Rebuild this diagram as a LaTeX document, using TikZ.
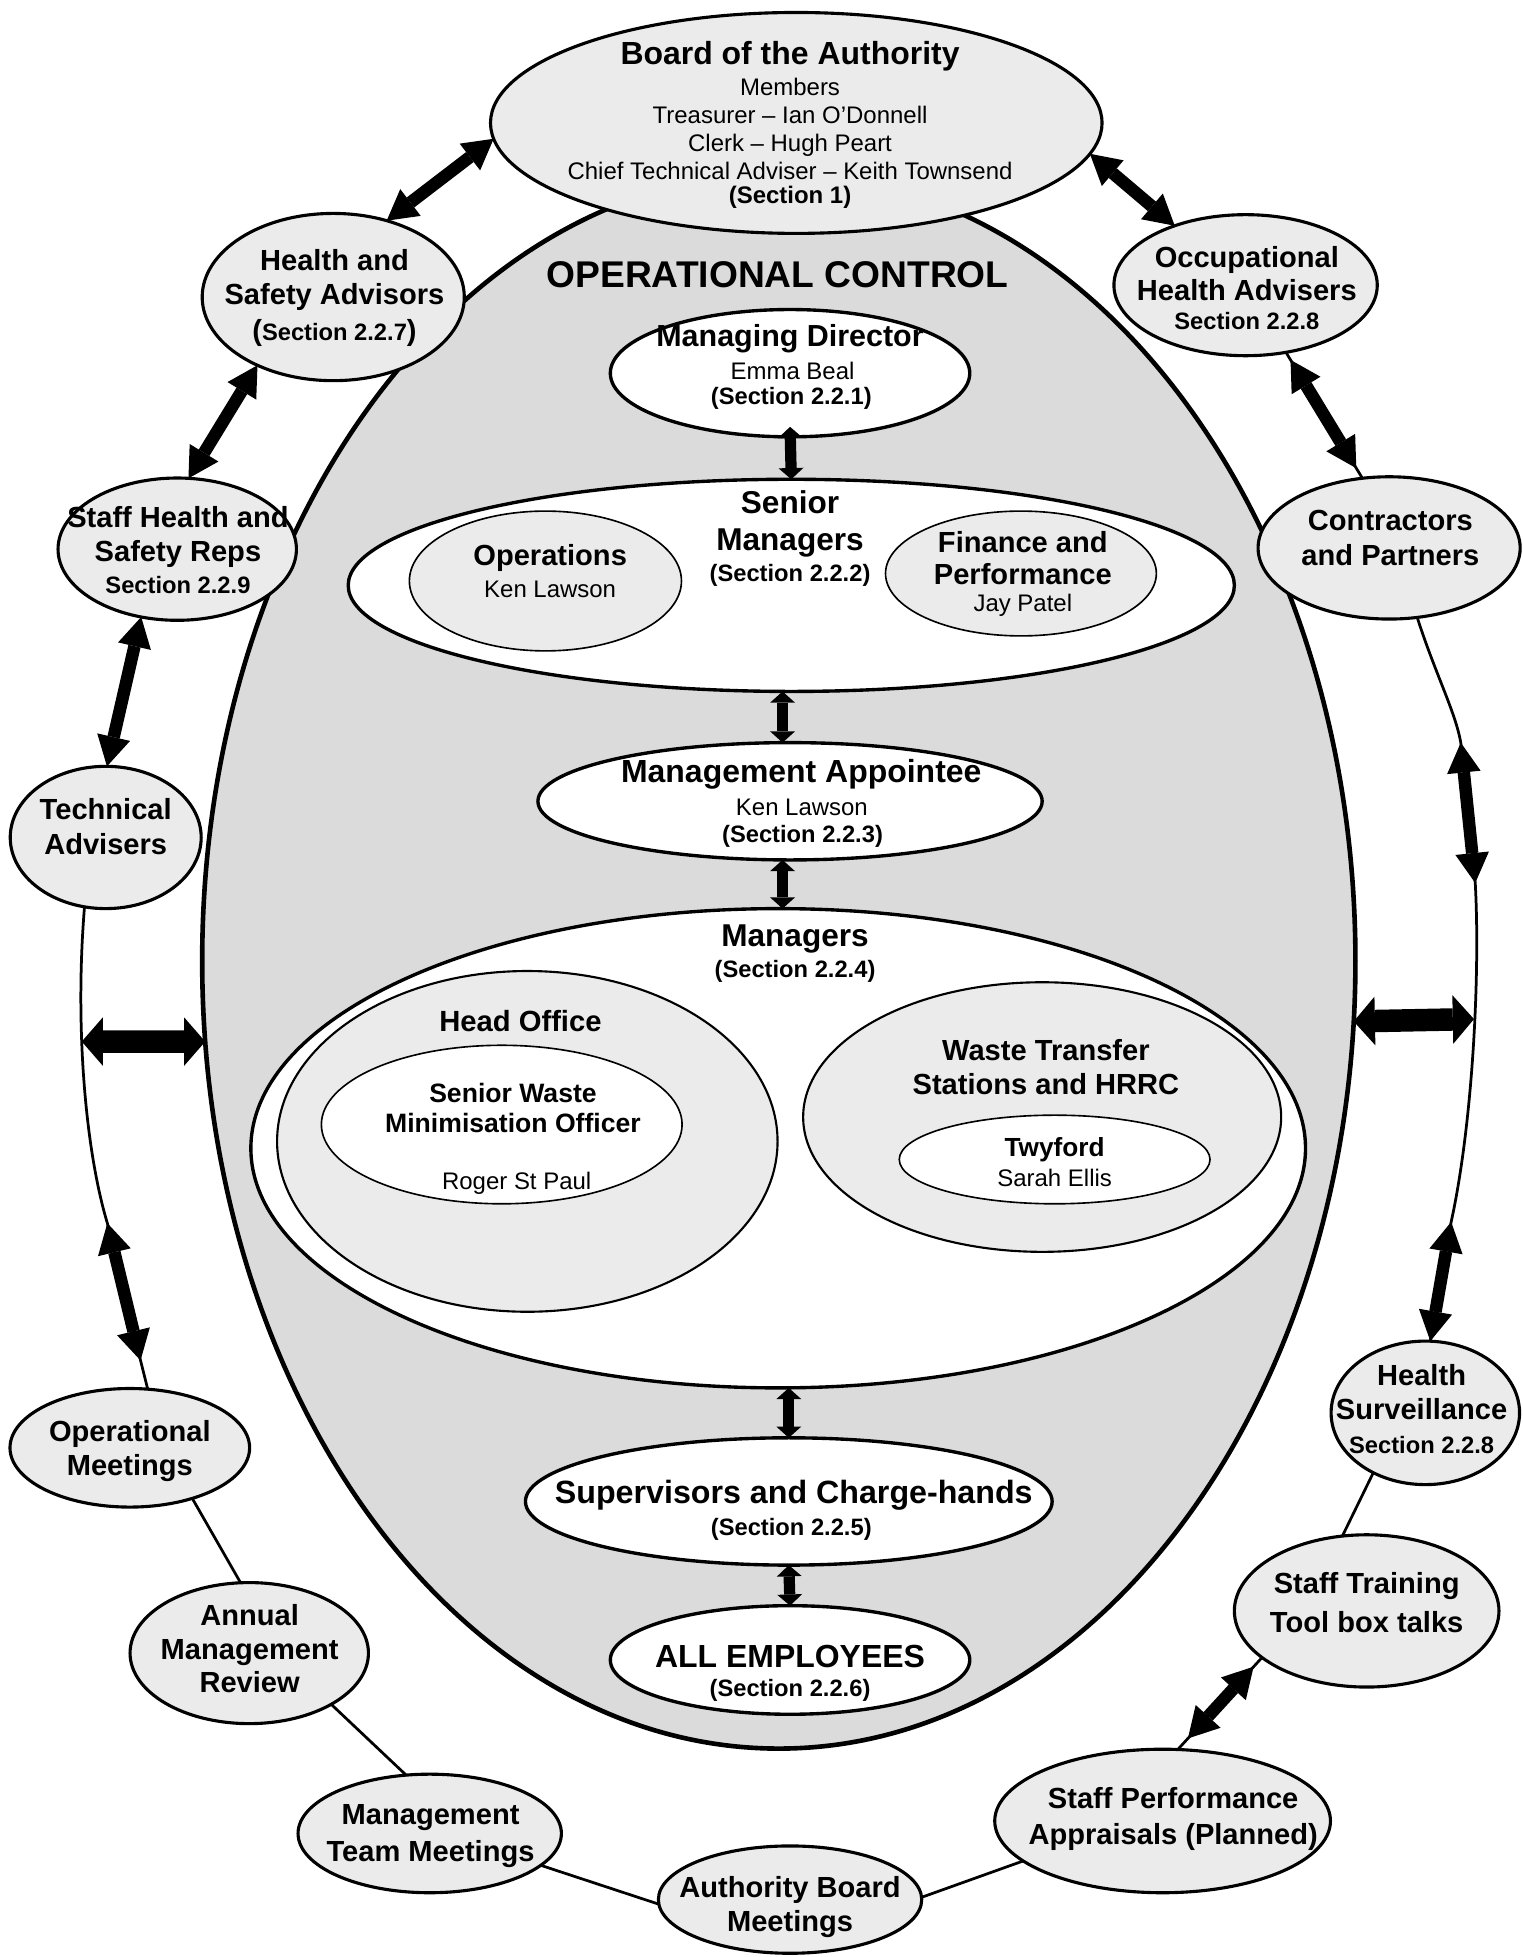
\documentclass[tikz,border=0pt]{standalone}
\usepackage{fontspec}
\setmainfont{Liberation Sans}
\usetikzlibrary{shapes.geometric,arrows.meta,calc}
\definecolor{opcgray}{gray}{0.86}
\definecolor{lg}{gray}{0.92}
\newcommand\fs[2]{\fontsize{#1pt}{#2pt}\selectfont}
\begin{document}
\begin{tikzpicture}[x=1pt,y=-1pt,
  ell/.style={ellipse, inner sep=0pt, outer sep=0pt},
  outernode/.style={ell, draw, fill=lg, line width=2.5pt},
  whitenode/.style={ell, draw, fill=white, line width=2.7pt},
  thinnode/.style={ell, draw, fill=lg, line width=1.3pt},
  ring/.style={line width=2.2pt},
  bigarr/.style={line width=10pt, {Triangle[length=24pt,width=27pt,line width=0pt]}-{Triangle[length=24pt,width=27pt,line width=0pt]}},
  harr/.style={line width=18pt, {Triangle[length=17pt,width=39pt,line width=0pt]}-{Triangle[length=17pt,width=39pt,line width=0pt]}},
  sarr/.style={line width=9pt, {Triangle[length=9pt,width=20pt,line width=0pt]}-{Triangle[length=9pt,width=20pt,line width=0pt]}},
  ot/.style={align=center, inner sep=0pt, font=\fs{23.3}{27}\bfseries},
  sec/.style={align=center, inner sep=0pt, font=\fs{19}{22}\bfseries},
  reg/.style={align=center, inner sep=0pt, font=\fs{19.2}{22}},
  ttl/.style={align=center, inner sep=0pt, font=\fs{#1}{30}\bfseries}
]
\useasboundingbox (0,0) rectangle (1220,1568);
\fill[white] (0,0) rectangle (1220,1568);

% central operational control ellipse
\node[ell, draw, fill=opcgray, line width=3.7pt, minimum width=924pt, minimum height=1262pt] (opc) at (624,770) {};
% board
\node[ell, draw, fill=lg, line width=2.5pt, minimum width=490pt, minimum height=177pt] (board) at (638,98.5) {};

% inner hierarchy
\node[whitenode, minimum width=288pt, minimum height=102pt] (md) at (633,299) {};
\node[whitenode, minimum width=710pt, minimum height=170pt] (sm) at (634,469) {};
\node[thinnode, minimum width=218pt, minimum height=112pt] (ops) at (437,465.5) {};
\node[thinnode, minimum width=217pt, minimum height=100pt] (fin) at (818,459.5) {};
\node[whitenode, minimum width=404pt, minimum height=94pt] (ma) at (633,642) {};
\node[whitenode, minimum width=845pt, minimum height=384pt] (mgr) at (623.5,920) {};
\node[ell, draw, fill=lg, line width=1.7pt, minimum width=401pt, minimum height=273pt] (ho) at (422.5,914.5) {};
\node[ell, draw, fill=white, line width=1.3pt, minimum width=289pt, minimum height=127pt] (sw) at (402,901) {};
\node[ell, draw, fill=lg, line width=1.7pt, minimum width=383pt, minimum height=216pt] (wt) at (835,895) {};
\node[ell, draw, fill=white, line width=1.3pt, minimum width=249pt, minimum height=71pt] (tw) at (845,929) {};
\node[whitenode, minimum width=422pt, minimum height=102pt] (sup) at (632,1203) {};
\node[whitenode, minimum width=288pt, minimum height=87pt] (all) at (633,1330) {};

% outer ring nodes
\node[outernode, minimum width=210pt, minimum height=134pt] (hsa) at (267,238) {};
\node[outernode, minimum width=191pt, minimum height=114pt] (reps) at (142,440) {};
\node[outernode, minimum width=153pt, minimum height=114pt] (ta) at (84.7,671) {};
\node[outernode, minimum width=211pt, minimum height=113pt] (occ) at (998,228.5) {};
\node[outernode, minimum width=210pt, minimum height=114pt] (contr) at (1113,439) {};
\node[outernode, minimum width=151pt, minimum height=115pt] (hs) at (1142,1132) {};
\node[outernode, minimum width=212pt, minimum height=122pt] (st) at (1095,1290.7) {};
\node[outernode, minimum width=269pt, minimum height=115pt] (perf) at (931.5,1459) {};
\node[outernode, minimum width=211pt, minimum height=86pt] (auth) at (633,1522) {};
\node[outernode, minimum width=211pt, minimum height=95pt] (mtm) at (344.3,1469) {};
\node[outernode, minimum width=191pt, minimum height=113pt] (ann) at (199.7,1324.5) {};
\node[outernode, minimum width=192pt, minimum height=95pt] (opm) at (104,1160) {};

% ring coordinates
\coordinate (lA) at (86,980);
\coordinate (lB) at (112.6,1090);
\coordinate (hL) at (65.5,834.5);
\coordinate (rA) at (1170.4,595);
\coordinate (rB) at (1182,707.5);
\coordinate (rC) at (1162.7,979);
\coordinate (hR) at (1181,816.5);

% thin ring connectors
\draw[ring] (ta.253) .. controls (60,820) and (68,920) .. (lA) -- (lB) -- (opm.73);
\draw[ring] (opm.321) -- (ann.97);
\draw[ring] (ann.328) -- (mtm.112);
\draw[ring] (mtm.344) -- (auth.182);
\draw[ring] (auth.1) -- (perf.196);
\draw[ring] (perf.78) -- (st.204);
\draw[ring] (st.108) -- (hs.229);
\draw[ring] (contr.292) .. controls (1150,540) and (1166,570) .. (rA) -- (rB) .. controls (1186,780) and (1180,900) .. (rC) -- (hs.86);
\draw[ring] (occ.301) -- (contr.111);

% thick double arrows on the ring
\draw[bigarr] (hsa.55) -- (board.183);
\draw[bigarr] (board.354) -- (occ.140);
\draw[bigarr] (hsa.222) -- (reps.81);
\draw[bigarr] (reps.242) -- (ta.89);
\draw[bigarr] ($(occ.301)!0.06!(contr.111)$) -- ($(occ.301)!0.92!(contr.111)$);
\draw[bigarr] (lA) -- (lB);
\draw[bigarr] (rA) -- (rB);
\draw[bigarr] (rC) -- (hs.86);
\draw[bigarr] ($(st.204)!0.1!(perf.78)$) -- ($(st.204)!0.88!(perf.78)$);
\draw[harr] (hL) -- (opc.188);
\draw[harr] (opc.354) -- (hR);

% inner arrows
\draw[sarr] ([yshift=8pt]md.south) -- (sm.north);
\draw[sarr] ([xshift=-7pt]sm.south) -- ([xshift=-6pt]ma.north);
\draw[sarr] ([xshift=-6pt]ma.south) -- ([xshift=3.5pt]mgr.north);
\draw[sarr] ([xshift=8.5pt]mgr.south) -- (sup.north);
\draw[sarr] (sup.south) -- (all.north);

% texts: board
\node[ttl=25.6] (bT1) at (633,44.7) {Board of the Authority};
\node[reg, font=\fs{19.2}{22.3}] (bT2) at (633,103.2) {Members\\Treasurer – Ian O’Donnell\\Clerk – Hugh Peart\\Chief Technical Adviser – Keith Townsend};
\node[sec, font=\fs{19.2}{22}\bfseries] (bT3) at (633,158) {(Section 1)};
\node[ttl=29.8] (ocT) at (623,220) {OPERATIONAL CONTROL};

% managing director
\node[ttl=24.4] (mdT1) at (633,271) {Managing Director};
\node[reg] (mdT2) at (635,297) {Emma Beal};
\node[sec] (mdT3) at (634,319) {(Section 2.2.1)};

% senior managers
\node[ttl=25.3, font=\fs{25.3}{29.5}\bfseries] (smT1) at (633,420) {Senior\\Managers};
\node[sec] (smT2) at (633,461) {(Section 2.2.2)};
\node[ttl=23.3] (opsT1) at (440.8,447) {Operations};
\node[reg] (opsT2) at (440.8,472) {Ken Lawson};
\node[ttl=23.3, font=\fs{23.3}{25.5}\bfseries] (finT1) at (819.5,447) {Finance and\\Performance};
\node[reg] (finT2) at (819.5,485) {Jay Patel};

% management appointee
\node[ttl=25.6] (maT1) at (642,620) {Management Appointee};
\node[reg] (maT2) at (642.5,647) {Ken Lawson};
\node[sec] (maT3) at (643,670) {(Section 2.2.3)};

% managers
\node[ttl=25.3] (mgT1) at (637,752) {Managers};
\node[sec] (mgT2) at (637,778) {(Section 2.2.4)};
\node[ttl=23.4] (hoT) at (417,818) {Head Office};
\node[ttl=21.3, font=\fs{21.3}{24}\bfseries] (swT1) at (411,888) {Senior Waste\\Minimisation Officer};
\node[reg] (swT2) at (414,948) {Roger St Paul};
\node[ttl=23.3, font=\fs{23.3}{26.5}\bfseries] (wtT) at (838,855) {Waste Transfer\\Stations and HRRC};
\node[ttl=21] (twT1) at (845,921) {Twyford};
\node[reg] (twT2) at (845,944) {Sarah Ellis};

% supervisors and employees
\node[ttl=25.8] (supT1) at (636,1198) {Supervisors and Charge-hands};
\node[sec] (supT2) at (634,1225) {(Section 2.2.5)};
\node[ttl=25.6] (allT1) at (633,1327) {ALL EMPLOYEES};
\node[sec] (allT2) at (633,1354) {(Section 2.2.6)};

% outer texts
\node[ot] (hsaT1) at (268,224.5) {Health and\\Safety Advisors};
\node[sec] (hsaT2) at (268,266.5) {{\fs{23.3}{27}(}Section 2.2.7{\fs{23.3}{27})}};
\node[ot] (repsT1) at (142.6,430.1) {Staff Health and\\Safety Reps};
\node[sec] (repsT2) at (142.6,468.6) {Section 2.2.9};
\node[ot, font=\fs{23.3}{27.5}\bfseries] (taT) at (84.7,662.2) {Technical\\Advisers};
\node[ot] (occT1) at (999,219.1) {Occupational\\Health Advisers};
\node[sec] (occT2) at (999,257.5) {Section 2.2.8};
\node[ot, font=\fs{23.3}{28.5}\bfseries] (conT) at (1114,431) {Contractors\\and Partners};
\node[ot] (hsT1) at (1139,1115.4) {Health\\Surveillance};
\node[sec] (hsT2) at (1139,1158) {Section 2.2.8};
\node[ot, font=\fs{23.3}{31}\bfseries] (stT) at (1095,1284.3) {Staff Training\\Tool box talks};
\node[ot, font=\fs{23.3}{28.3}\bfseries] (perfT) at (940,1457.5) {Staff Performance\\Appraisals (Planned)};
\node[ot] (authT) at (633,1528) {Authority Board\\Meetings};
\node[ot, font=\fs{23.3}{29.6}\bfseries] (mtmT) at (345,1470.8) {Management\\Team Meetings};
\node[ot] (annT) at (200,1321) {Annual\\Management\\Review};
\node[ot] (opmT) at (104,1162.4) {Operational\\Meetings};
\end{tikzpicture}
\end{document}
